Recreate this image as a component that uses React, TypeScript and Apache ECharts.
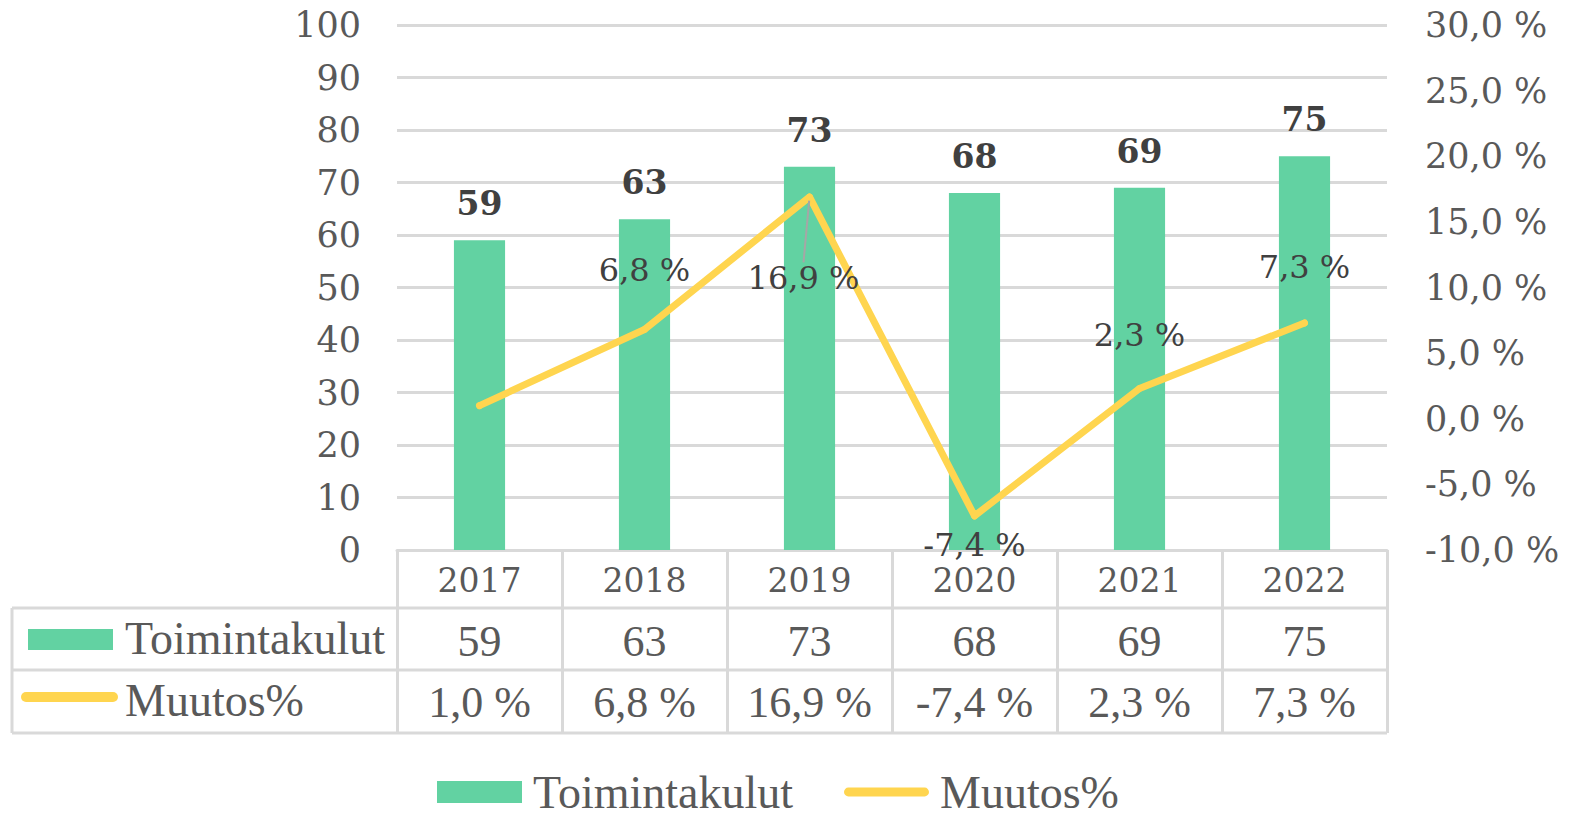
import React, { useEffect, useRef } from "react";
import * as echarts from "echarts";

const years = ["2017", "2018", "2019", "2020", "2021", "2022"];
const toimintakulut = [59, 63, 73, 68, 69, 75];
const muutos = [1.0, 6.8, 16.9, -7.4, 2.3, 7.3];
const seriesNames = ["Toimintakulut", "Muutos%"];

// label placement per point of the line (presentation only)
const lineLabelPlacement: any[] = [
  { show: false },
  { position: "top", distance: 40 },
  { position: "bottom", distance: 4 },
  { position: "bottom", distance: 10, offset: [-8, 0] },
  { position: "top", distance: 34 },
  { position: "top", distance: 36 },
];

const fmtPct = (v: number) => v.toFixed(1).replace(".", ",") + " %";

const GREEN = "#62D2A2";
const YELLOW = "#FFD54F";
const GRID = "#D9D9D9";
const TXT = "#595959";
const DARK = "#404040";
const SERIF = "DejaVu Serif";
const TSERIF = "Liberation Serif";

export default function App() {
  const ref = useRef<HTMLDivElement>(null);
  useEffect(() => {
    const chart = echarts.init(ref.current!, null, { renderer: "svg" });
    const gLeft = 397, gRight = 1387, gBottom = 550;
    const tableLeft = 12;
    const row1 = 608, row2 = 670, row3 = 733;
    const lineSt = { stroke: GRID, lineWidth: 3 };
    chart.setOption({
      animation: false,
      backgroundColor: "#ffffff",
      grid: { left: gLeft, right: 1573 - gRight, top: 25, bottom: 816 - gBottom, containLabel: false },
      xAxis: [
        {
          type: "category",
          data: years,
          position: "bottom",
          axisLine: { show: true, lineStyle: { color: GRID, width: 3 } },
          axisTick: { show: true, interval: 0, length: row3 - gBottom, lineStyle: { color: GRID, width: 3 } },
          axisLabel: { margin: 30, verticalAlign: "middle", fontFamily: SERIF, fontSize: 33, color: TXT },
        },
        {
          type: "category",
          data: toimintakulut.map(String),
          position: "bottom",
          axisLine: { show: false },
          axisTick: { show: false },
          axisLabel: { margin: 91, verticalAlign: "middle", fontFamily: TSERIF, fontSize: 44, color: TXT },
        },
        {
          type: "category",
          data: muutos.map(fmtPct),
          position: "bottom",
          axisLine: { show: false },
          axisTick: { show: false },
          axisLabel: { margin: 152, verticalAlign: "middle", fontFamily: TSERIF, fontSize: 44, color: TXT },
        },
      ],
      yAxis: [
        {
          type: "value",
          min: 0,
          max: 100,
          interval: 10,
          axisLine: { show: false },
          axisTick: { show: false },
          splitLine: { lineStyle: { color: GRID, width: 3 } },
          axisLabel: { margin: 36, fontFamily: SERIF, fontSize: 35, color: TXT },
        },
        {
          type: "value",
          min: -10,
          max: 30,
          interval: 5,
          position: "right",
          axisLine: { show: false },
          axisTick: { show: false },
          splitLine: { show: false },
          axisLabel: { margin: 38, fontFamily: SERIF, fontSize: 35, color: TXT, formatter: (v: number) => fmtPct(v) },
        },
      ],
      legend: {
        left: 432,
        top: 764,
        itemWidth: 85,
        itemHeight: 22,
        itemGap: 51,
        textStyle: { fontFamily: TSERIF, fontSize: 46, lineHeight: 40, color: TXT, padding: [0, 0, 0, 6] },
        data: [
          { name: seriesNames[0], icon: "rect" },
          { name: seriesNames[1], icon: "path://M5,0 L92,0 A5,5 0 0 1 92,10 L5,10 A5,5 0 0 1 5,0 Z" },
        ],
      },
      series: [
        {
          name: seriesNames[0],
          type: "bar",
          xAxisIndex: 0,
          yAxisIndex: 0,
          data: toimintakulut,
          barWidth: "31%",
          itemStyle: { color: GREEN },
          label: {
            show: true,
            position: "top",
            distance: 20,
            fontFamily: SERIF,
            fontWeight: "bold",
            fontSize: 33,
            color: DARK,
          },
        },
        {
          name: seriesNames[1],
          type: "line",
          xAxisIndex: 0,
          yAxisIndex: 1,
          data: muutos.map((v, i) => ({
            value: v,
            label: lineLabelPlacement[i],
            labelLine: i === 2 ? { show: true, lineStyle: { color: "#A6A6A6", width: 2 } } : { show: false },
          })),
          symbol: "circle",
          symbolSize: 7,
          itemStyle: { color: YELLOW },
          lineStyle: { color: YELLOW, width: 7, cap: "round", join: "round" },
          label: {
            show: true,
            fontFamily: SERIF,
            fontSize: 32,
            color: DARK,
            formatter: (p: any) => fmtPct(p.value),
          },
          labelLayout: (p: any) => (p.dataIndex === 2 ? { dy: 58, dx: -6 } : {}),
          z: 3,
        },
      ],
      graphic: [
        { type: "line", shape: { x1: tableLeft, y1: row1, x2: gRight, y2: row1 }, style: lineSt },
        { type: "line", shape: { x1: tableLeft, y1: row2, x2: gRight, y2: row2 }, style: lineSt },
        { type: "line", shape: { x1: tableLeft, y1: row3, x2: gRight, y2: row3 }, style: lineSt },
        { type: "line", shape: { x1: tableLeft, y1: row1, x2: tableLeft, y2: row3 }, style: lineSt },
        { type: "rect", shape: { x: 28, y: 629, width: 85, height: 21 }, style: { fill: GREEN } },
        { type: "line", shape: { x1: 26, y1: 697, x2: 113, y2: 697 }, style: { stroke: YELLOW, lineWidth: 10, lineCap: "round" } },
        {
          type: "text",
          x: 125,
          y: 638,
          style: { text: seriesNames[0], fontFamily: TSERIF, fontSize: 46, fill: TXT, verticalAlign: "middle", align: "left" },
        },
        {
          type: "text",
          x: 125,
          y: 700,
          style: { text: seriesNames[1], fontFamily: TSERIF, fontSize: 46, fill: TXT, verticalAlign: "middle", align: "left" },
        },
      ],
    });
    return () => chart.dispose();
  }, []);
  return (
    <div
      ref={ref}
      style={{ position: "fixed", left: 0, top: 0, width: 1573, height: 816, background: "#fff" }}
    />
  );
}
